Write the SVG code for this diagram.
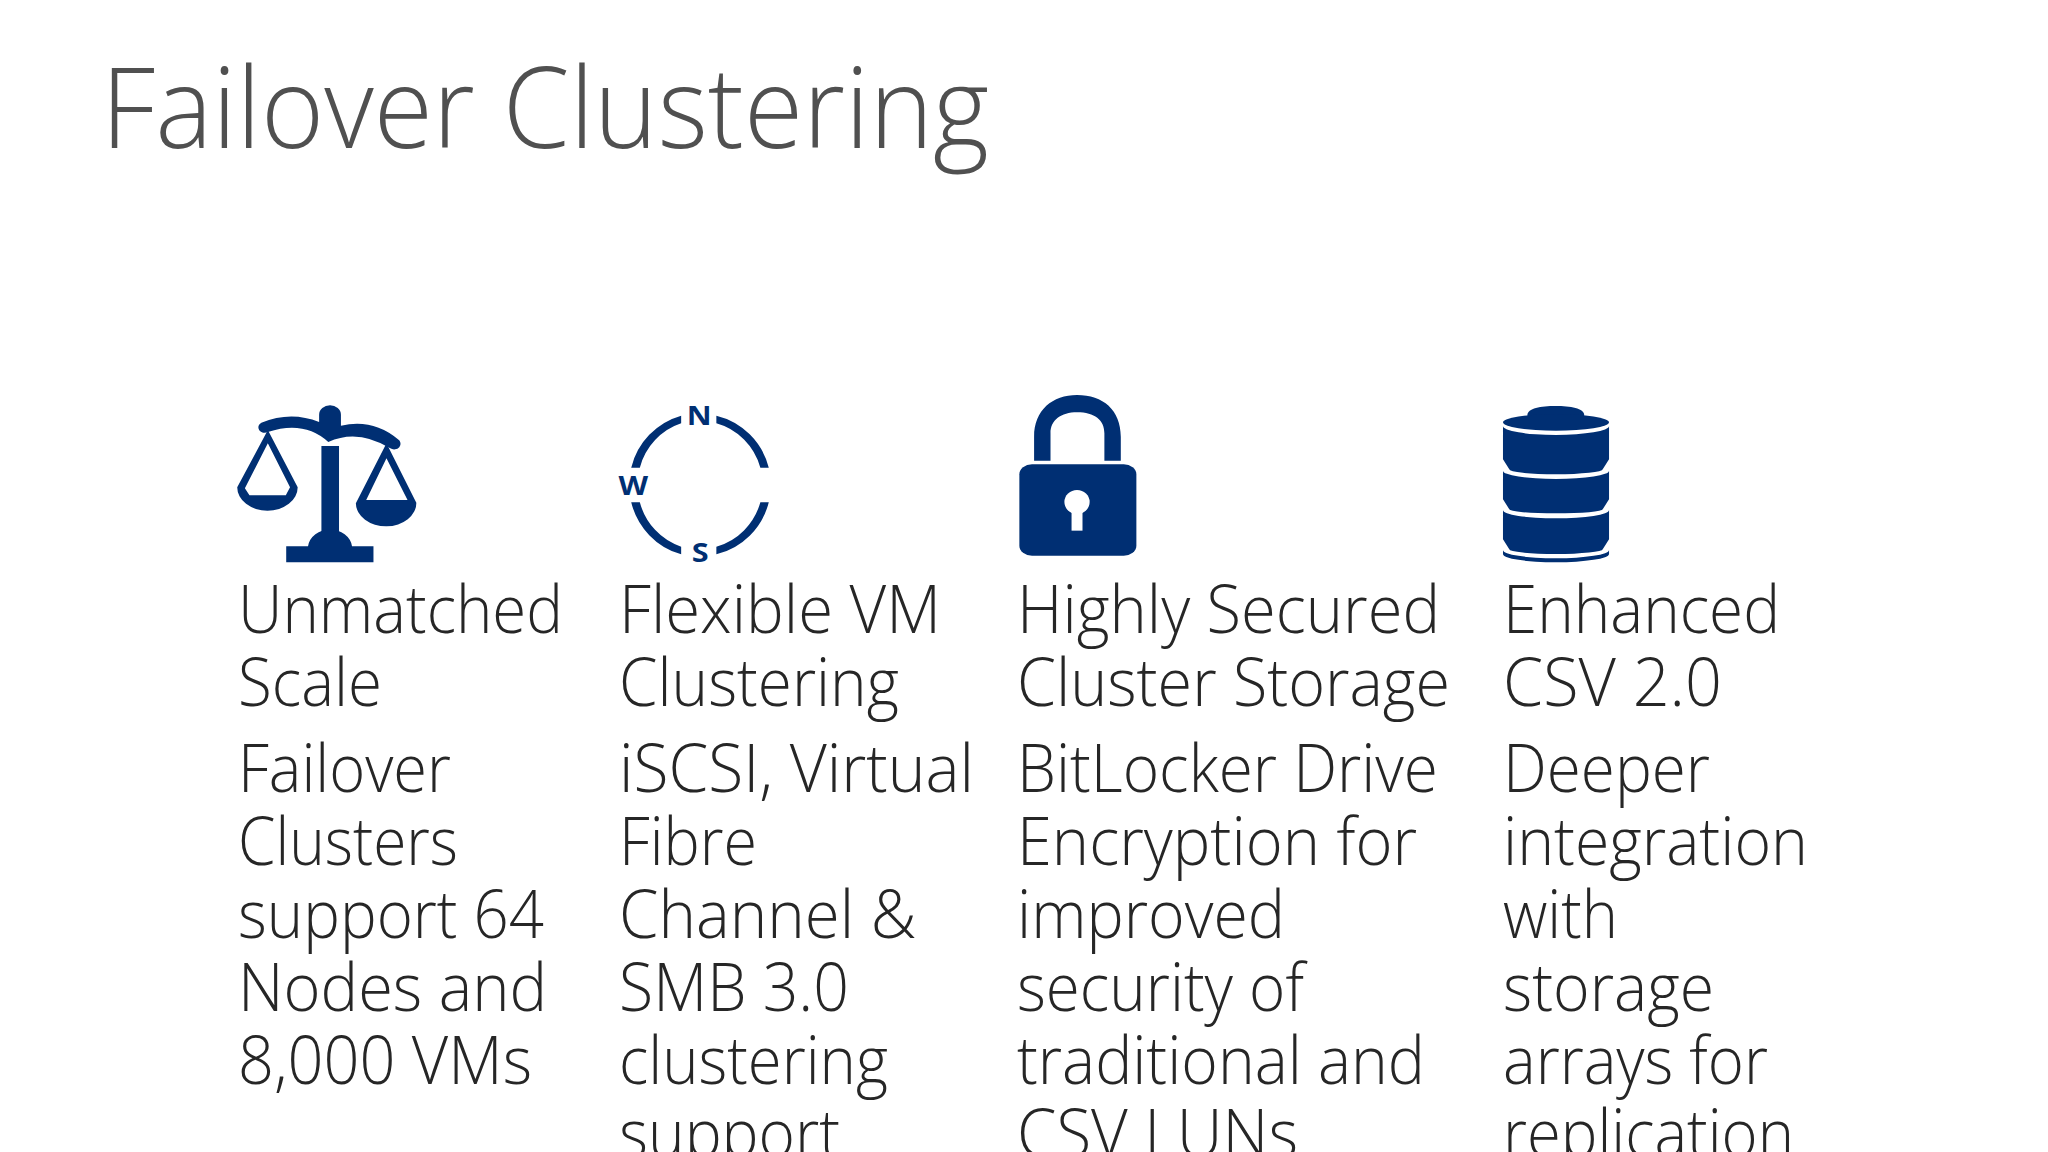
<svg xmlns="http://www.w3.org/2000/svg" width="2048" height="1152" viewBox="0 0 2048 1152">
<style>
.t{font-family:"Open Sans","Noto Sans","Liberation Sans",sans-serif;font-weight:300;fill:#262626;font-size:67px}
.h{font-family:"Open Sans","Noto Sans","Liberation Sans",sans-serif;font-weight:300;fill:#505050;font-size:113px}
.k{font-family:"Open Sans","Liberation Sans",sans-serif;font-weight:700;font-size:80px;text-anchor:middle;fill:#002f73}
.i{fill:#002f73}
</style>
<rect width="2048" height="1152" fill="#fff"/>
<text id="title" class="h" x="101" y="148" textLength="888" lengthAdjust="spacingAndGlyphs">Failover Clustering</text>
<g id="connectors"/>
<g id="scale-node">
<g class="i" transform="translate(220,380) scale(.3827,.3333)">
<path d="M108 128Q185 92 259 126L259 104A28.500 28.500 0 0 1 316 104L316 137Q400 115 465 178A14 14 0 0 1 445 205Q360 145 283 186Q220 120 125 156A14 14 0 0 1 108 128Z"/>
<rect x="265" y="198" width="46" height="270"/>
<path d="M173 499H230A58 58 0 0 1 345 499H401V547H173Z"/>
<path fill-rule="evenodd" d="M125 150L203 322A79 70 0 0 1 45 322ZM125 190L65 325L77 346H172L183 322Z"/>
<path fill-rule="evenodd" d="M435 190L513 368A79 70 0 0 1 355 370ZM435 235L382 360H490Z"/>
</g>
<text class="t" x="238" y="633" textLength="325" lengthAdjust="spacingAndGlyphs">Unmatched</text>
<text class="t" x="238" y="706" textLength="144" lengthAdjust="spacingAndGlyphs">Scale</text>
<text class="t" x="238" y="792" textLength="213" lengthAdjust="spacingAndGlyphs">Failover</text>
<text class="t" x="238" y="865" textLength="220" lengthAdjust="spacingAndGlyphs">Clusters</text>
<text class="t" x="238" y="938" textLength="306" lengthAdjust="spacingAndGlyphs">support 64</text>
<text class="t" x="238" y="1011" textLength="309" lengthAdjust="spacingAndGlyphs">Nodes and</text>
<text class="t" x="238" y="1084" textLength="294" lengthAdjust="spacingAndGlyphs">8,000 VMs</text>
</g>
<g id="flexible-node">
<g class="i" transform="translate(220,380) scale(.3827,.3333)">
<path d="M1205 107A186 216 0 0 0 1074.500 263H1097A164 194 0 0 1 1205 130Z"/>
<path d="M1297 107A186 216 0 0 1 1434 263H1412A164 194 0 0 0 1297 130Z"/>
<path d="M1205 523A186 216 0 0 1 1074.500 367H1097A164 194 0 0 0 1205 500Z"/>
<path d="M1297 523A186 216 0 0 0 1434 367H1412A164 194 0 0 1 1297 500Z"/>
<text class="k" x="1252" y="134">N</text>
<text class="k" x="1080" y="344">W</text>
<text class="k" x="1255" y="546">S</text>
</g>
<text class="t" x="619" y="633" textLength="322" lengthAdjust="spacingAndGlyphs">Flexible VM</text>
<text class="t" x="619" y="706" textLength="280" lengthAdjust="spacingAndGlyphs">Clustering</text>
<text class="t" x="619" y="792" textLength="355" lengthAdjust="spacingAndGlyphs">iSCSI, Virtual</text>
<text class="t" x="619" y="865" textLength="138" lengthAdjust="spacingAndGlyphs">Fibre</text>
<text class="t" x="619" y="938" textLength="297" lengthAdjust="spacingAndGlyphs">Channel &amp;</text>
<text class="t" x="619" y="1011" textLength="230" lengthAdjust="spacingAndGlyphs">SMB 3.0</text>
<text class="t" x="619" y="1084" textLength="269" lengthAdjust="spacingAndGlyphs">clustering</text>
<text class="t" x="619" y="1157" textLength="221" lengthAdjust="spacingAndGlyphs">support</text>
</g>
<g id="secured-node">
<g class="i" transform="translate(1000,380) scale(.4209,.3333)">
<path d="M81 242V170C81 90 125 45 183 45C245 45 287 90 287 170V242H248V160C248 120 225 97 183 97C145 97 120 120 120 160V242Z"/>
<rect x="46" y="253" width="278" height="274" rx="30"/>
<ellipse cx="183" cy="366" rx="30" ry="36" fill="#fff"/>
<rect x="170" y="395" width="26" height="57" fill="#fff"/>
</g>
<text class="t" x="1017" y="633" textLength="423" lengthAdjust="spacingAndGlyphs">Highly Secured</text>
<text class="t" x="1017" y="706" textLength="433" lengthAdjust="spacingAndGlyphs">Cluster Storage</text>
<text class="t" x="1017" y="792" textLength="421" lengthAdjust="spacingAndGlyphs">BitLocker Drive</text>
<text class="t" x="1017" y="865" textLength="400" lengthAdjust="spacingAndGlyphs">Encryption for</text>
<text class="t" x="1017" y="938" textLength="268" lengthAdjust="spacingAndGlyphs">improved</text>
<text class="t" x="1017" y="1011" textLength="287" lengthAdjust="spacingAndGlyphs">security of</text>
<text class="t" x="1017" y="1084" textLength="408" lengthAdjust="spacingAndGlyphs">traditional and</text>
<text class="t" x="1017" y="1157" textLength="281" lengthAdjust="spacingAndGlyphs">CSV LUNs</text>
</g>
<g id="csv-node">
<g class="i" transform="translate(1000,380) scale(.4209,.3333)">
<path d="M1253 105C1253 85 1285 78 1320 78C1355 78 1388 85 1388 105V110H1253Z"/>
<ellipse cx="1321" cy="127" rx="126" ry="25"/>
<path d="M1195 138A126 27 0 0 0 1447 138V238L1432 268A111 15 0 0 1 1210 268L1195 238Z"/>
<path d="M1195 272A126 25 0 0 0 1447 272V358L1432 388A111 12 0 0 1 1210 388L1195 358Z"/>
<path d="M1195 390A126 25 0 0 0 1447 390V478L1432 508A111 14 0 0 1 1210 508L1195 478Z"/>
<path d="M1195 510A126 25 0 0 0 1447 510V522A126 25 0 0 1 1195 522Z"/>
</g>
<text class="t" x="1503" y="633" textLength="277" lengthAdjust="spacingAndGlyphs">Enhanced</text>
<text class="t" x="1503" y="706" textLength="219" lengthAdjust="spacingAndGlyphs">CSV 2.0</text>
<text class="t" x="1503" y="792" textLength="207" lengthAdjust="spacingAndGlyphs">Deeper</text>
<text class="t" x="1503" y="865" textLength="305" lengthAdjust="spacingAndGlyphs">integration</text>
<text class="t" x="1503" y="938" textLength="115" lengthAdjust="spacingAndGlyphs">with</text>
<text class="t" x="1503" y="1011" textLength="211" lengthAdjust="spacingAndGlyphs">storage</text>
<text class="t" x="1503" y="1084" textLength="265" lengthAdjust="spacingAndGlyphs">arrays for</text>
<text class="t" x="1503" y="1157" textLength="291" lengthAdjust="spacingAndGlyphs">replication</text>
</g>
</svg>
